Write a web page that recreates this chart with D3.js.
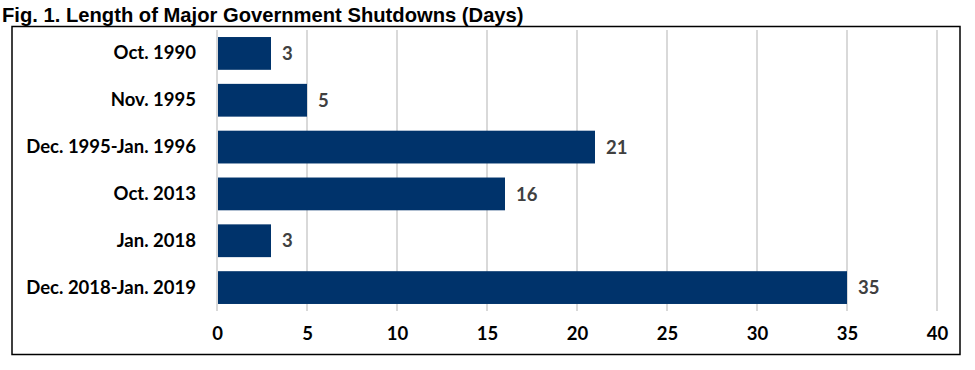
<!DOCTYPE html>
<html>

<head>
    <meta charset="UTF-8">
    <title>Length of Major Government Shutdowns</title>
    <script src="https://d3js.org/d3.v7.min.js"></script>
    <style>
        body { margin: 0; background: #fff; }
    </style>
</head>

<body>
    <div class="canvas"></div>

    <script>
        const width = 975;
        const height = 370;

        const categories = ["Oct. 1990", "Nov. 1995", "Dec. 1995-Jan. 1996", "Oct. 2013", "Jan. 2018", "Dec. 2018-Jan. 2019"];
        const days = [3, 5, 21, 16, 3, 35];
        const xTicks = [0, 5, 10, 15, 20, 25, 30, 35, 40];

        const data = categories.map((c, i) => ({ name: c, days: days[i] }));

        const svg = d3.select(".canvas")
            .append("svg")
            .attr("width", width)
            .attr("height", height);

        // title
        svg.append("text")
            .attr("x", 2)
            .attr("y", 21.5)
            .attr("font-family", "Liberation Sans, Arial, sans-serif")
            .attr("font-weight", "bold")
            .attr("font-size", 20.2)
            .attr("fill", "#000")
            .text("Fig. 1. Length of Major Government Shutdowns (Days)");

        // outer box
        svg.append("rect")
            .attr("x", 12)
            .attr("y", 26.5)
            .attr("width", 948)
            .attr("height", 328)
            .attr("fill", "none")
            .attr("stroke", "#000")
            .attr("stroke-width", 1.5);

        const xScale = d3.scaleLinear()
            .domain([0, 40])
            .range([217, 937]);

        const yScale = d3.scaleBand()
            .domain(categories)
            .range([30, 311])
            .paddingInner(0.3)
            .paddingOuter(0.15);

        // gridlines
        svg.append("g")
            .selectAll("line")
            .data(xTicks)
            .join("line")
            .attr("x1", (d) => xScale(d))
            .attr("x2", (d) => xScale(d))
            .attr("y1", 30)
            .attr("y2", 311)
            .attr("stroke", "#d9d9d9")
            .attr("stroke-width", 2);

        // bars
        svg.append("g")
            .selectAll("rect")
            .data(data)
            .join("rect")
            .attr("x", xScale(0) + 1)
            .attr("y", (d) => yScale(d.name))
            .attr("width", (d) => xScale(d.days) - xScale(0) - 1)
            .attr("height", yScale.bandwidth())
            .attr("fill", "#00336b");

        const font = "Lato, 'Open Sans', sans-serif";

        // value labels
        svg.append("g")
            .selectAll("text")
            .data(data)
            .join("text")
            .attr("x", (d) => xScale(d.days) + 11)
            .attr("y", (d) => yScale(d.name) + yScale.bandwidth() / 2)
            .attr("dy", "0.36em")
            .attr("font-family", font)
            .attr("font-weight", "bold")
            .attr("font-size", 18.5)
            .attr("fill", "#404040")
            .text((d) => d.days);

        // category labels
        const yAxis = d3.axisLeft(yScale).tickSize(0).tickPadding(0);
        svg.append("g")
            .attr("transform", "translate(196,0)")
            .call(yAxis)
            .call((g) => g.select(".domain").remove())
            .selectAll("text")
            .attr("font-family", font)
            .attr("font-weight", "bold")
            .attr("font-size", 18.5)
            .attr("fill", "#000");

        // x axis labels
        const xAxis = d3.axisBottom(xScale).tickValues(xTicks).tickSize(0).tickPadding(0);
        svg.append("g")
            .attr("transform", "translate(0,327)")
            .call(xAxis)
            .call((g) => g.select(".domain").remove())
            .selectAll("text")
            .attr("font-family", font)
            .attr("font-weight", "bold")
            .attr("font-size", 18.5)
            .attr("fill", "#000");
    </script>
</body>

</html>
